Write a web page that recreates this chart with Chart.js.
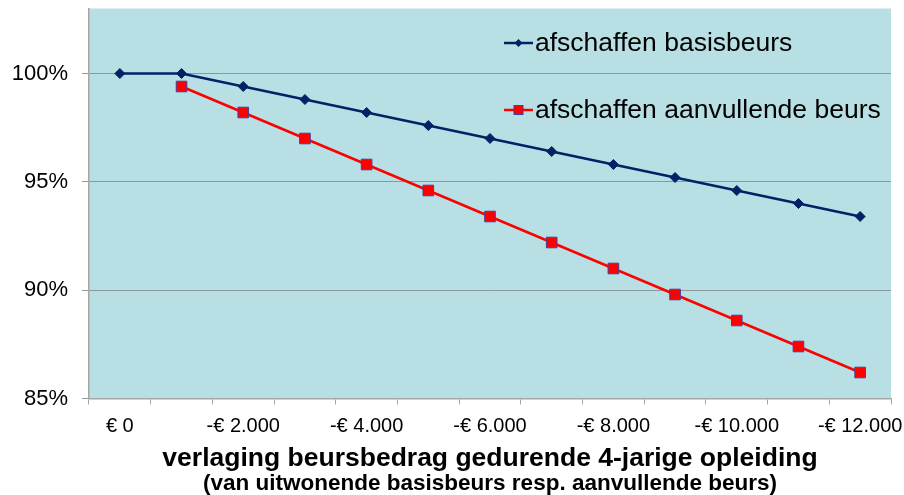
<!DOCTYPE html>
<html>
<head>
<meta charset="utf-8">
<script src="https://cdn.jsdelivr.net/npm/chart.js@4/dist/chart.umd.min.js"></script>
<style>
  html, body { margin: 0; padding: 0; background: #fff; }
  #wrap { width: 904px; height: 495px; position: relative; }
</style>
</head>
<body>
<div id="wrap"><canvas id="beursChart"></canvas></div>
<script>
// categories: verlaging in stappen van € 1.000, label alleen bij even stappen
const categories = ['€ 0', '-€ 1.000', '-€ 2.000', '-€ 3.000', '-€ 4.000', '-€ 5.000', '-€ 6.000',
    '-€ 7.000', '-€ 8.000', '-€ 9.000', '-€ 10.000', '-€ 11.000', '-€ 12.000'];
const basisbeurs = [100, 100, 99.4, 98.8, 98.2, 97.6, 97.0, 96.4, 95.8, 95.2, 94.6, 94.0, 93.4];
const aanvullendeBeurs = [null, 99.4, 98.2, 97.0, 95.8, 94.6, 93.4, 92.2, 91.0, 89.8, 88.6, 87.4, 86.2];
const yTicks = [85, 90, 95, 100];

const blue = '#002366';
const red = '#ff0000';
const fontFamily = '"Liberation Sans", Arial, sans-serif';

// plot area background
const plotBackground = {
    id: 'plotBackground',
    beforeDraw(chart) {
        const a = chart.chartArea;
        const ctx = chart.ctx;
        ctx.save();
        ctx.fillStyle = '#b8dfe3';
        ctx.fillRect(a.left, a.top, a.right - a.left, a.bottom - a.top);
        ctx.restore();
    }
};

// legend drawn inside the plot
const innerLegend = {
    id: 'innerLegend',
    afterDatasetsDraw(chart) {
        const ctx = chart.ctx;
        const items = [
            { label: 'afschaffen basisbeurs', y: 43, color: blue, marker: 'diamond' },
            { label: 'afschaffen aanvullende beurs', y: 110, color: red, marker: 'square' }
        ];
        ctx.save();
        items.forEach(item => {
            ctx.strokeStyle = item.color;
            ctx.lineWidth = 2.5;
            ctx.beginPath();
            ctx.moveTo(504, item.y);
            ctx.lineTo(533, item.y);
            ctx.stroke();
            if (item.marker === 'diamond') {
                ctx.fillStyle = blue;
                ctx.beginPath();
                ctx.moveTo(518.5, item.y - 4);
                ctx.lineTo(522.5, item.y);
                ctx.lineTo(518.5, item.y + 4);
                ctx.lineTo(514.5, item.y);
                ctx.closePath();
                ctx.fill();
            } else {
                ctx.fillStyle = red;
                ctx.strokeStyle = '#4040a0';
                ctx.lineWidth = 1;
                ctx.fillRect(514, item.y - 4.5, 9, 9);
                ctx.strokeRect(514, item.y - 4.5, 9, 9);
            }
            ctx.fillStyle = '#000';
            ctx.font = '26.5px ' + fontFamily;
            ctx.textBaseline = 'middle';
            ctx.fillText(item.label, 535, item.y + 1);
        });
        ctx.restore();
    }
};

const ctx = document.getElementById('beursChart').getContext('2d');
const beursChart = new Chart(ctx, {
    type: 'line',
    data: {
        labels: categories,
        datasets: [
            {
                label: 'afschaffen basisbeurs',
                data: basisbeurs,
                borderColor: blue,
                backgroundColor: blue,
                borderWidth: 2.5,
                pointStyle: 'rectRot',
                pointRadius: 5,
                pointBorderWidth: 1,
                pointBorderColor: blue,
                pointBackgroundColor: blue,
                tension: 0
            },
            {
                label: 'afschaffen aanvullende beurs',
                data: aanvullendeBeurs,
                borderColor: red,
                backgroundColor: red,
                borderWidth: 2.5,
                pointStyle: 'rect',
                pointRadius: 7.5,
                pointBorderWidth: 1,
                pointBorderColor: '#4040a0',
                pointBackgroundColor: red,
                tension: 0
            }
        ]
    },
    options: {
        responsive: true,
        maintainAspectRatio: false,
        animation: false,
        devicePixelRatio: 1,
        layout: { padding: { left: 0, right: 13, top: 8, bottom: 0 } },
        plugins: {
            legend: { display: false },
            tooltip: { enabled: false },
            title: {
                display: true,
                position: 'bottom',
                fullSize: false,
                text: '(van uitwonende basisbeurs resp. aanvullende beurs)',
                color: '#000',
                font: { family: fontFamily, size: 22.5, weight: 'bold', lineHeight: 1 },
                padding: { top: 0, bottom: 0 }
            }
        },
        scales: {
            x: {
                offset: true,
                afterFit: function(axis) {
                    axis.paddingLeft = 0;
                    axis.paddingRight = 0;
                },
                grid: {
                    offset: true,
                    drawOnChartArea: false,
                    tickLength: 6,
                    color: '#a6a6a6'
                },
                border: { color: '#a6a6a6', width: 1.5 },
                ticks: {
                    autoSkip: false,
                    maxRotation: 0,
                    color: '#000',
                    padding: 9.5,
                    font: { family: fontFamily, size: 20 },
                    callback: function(value, index) {
                        return index % 2 === 0 ? categories[index] : '';
                    }
                },
                title: {
                    display: true,
                    text: 'verlaging beursbedrag gedurende 4-jarige opleiding',
                    color: '#000',
                    font: { family: fontFamily, size: 26.5, weight: 'bold', lineHeight: 1 },
                    padding: { top: -2, bottom: 0.5 }
                }
            },
            y: {
                min: 85,
                max: 103,
                afterBuildTicks: function(axis) {
                    axis.ticks = yTicks.map(v => ({ value: v }));
                },
                afterFit: function(axis) {
                    axis.width = 89;
                    axis.paddingTop = 0;
                    axis.paddingBottom = 0;
                },
                grid: {
                    color: '#8a9a9c',
                    lineWidth: 1,
                    tickLength: 7
                },
                border: { color: '#a6a6a6', width: 1.5 },
                ticks: {
                    color: '#000',
                    padding: 14,
                    font: { family: fontFamily, size: 22 },
                    callback: function(value) {
                        return value + '%';
                    }
                }
            }
        }
    },
    plugins: [plotBackground, innerLegend]
});
</script>
</body>
</html>
